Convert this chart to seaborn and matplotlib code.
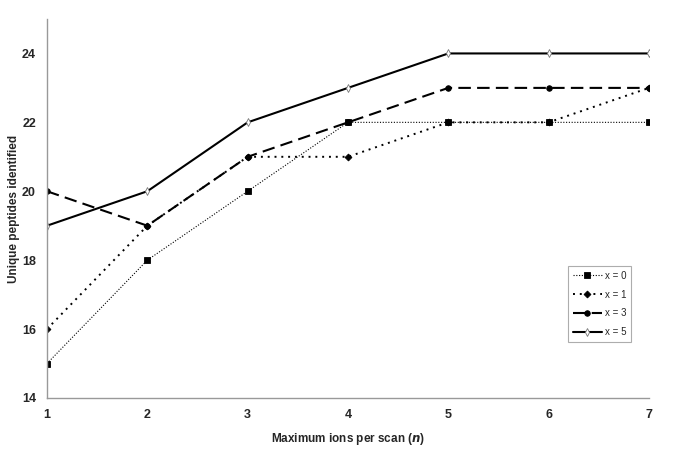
import numpy as np
import pandas as pd
import matplotlib
matplotlib.use("Agg")
import matplotlib.pyplot as plt
import seaborn as sns

# data
max_ions = [1, 2, 3, 4, 5, 6, 7]
x0_vals = [15, 18, 20, 22, 22, 22, 22]
x1_vals = [16, 19, 21, 21, 22, 22, 23]
x3_vals = [20, 19, 21, 22, 23, 23, 23]
x5_vals = [19, 20, 22, 23, 24, 24, 24]
labels = ["x = 0", "x = 1", "x = 3", "x = 5"]

sns.set_style("white")
plt.rcParams['font.family'] = ['Liberation Sans', 'DejaVu Sans']

fig = plt.figure(figsize=(6.85, 4.5), dpi=100)
ax = fig.add_axes([0.0686, 0.1156, 0.8788, 0.8422])

styles = [
    dict(marker='s', ms=4.5, lw=0.8, dashes=(1, 1.5), mfc='black', mec='black'),
    dict(marker='D', ms=3.5, lw=1.4, dashes=(1, 2.5), mfc='black', mec='black'),
    dict(marker='o', ms=4, lw=1.5, dashes=(6, 3), mfc='black', mec='black'),
    dict(marker='d', ms=4, lw=1.5, dashes=None, mfc='white', mec='#777777'),
]
series = [x0_vals, x1_vals, x3_vals, x5_vals]

for vals, lab, st in zip(series, labels, styles):
    df = pd.DataFrame({"n": max_ions, "peptides": vals})
    sns.lineplot(data=df, x="n", y="peptides", ax=ax, color='black',
                 marker=st['marker'], markersize=st['ms'], linewidth=st['lw'],
                 markerfacecolor=st['mfc'], markeredgecolor=st['mec'],
                 markeredgewidth=0.6, label=lab)
    if st['dashes'] is not None:
        ax.lines[-1].set_dashes(st['dashes'])

ax.set_xlim(1, 7)
ax.set_ylim(14, 25)
ax.set_xticks(max_ions)
ax.set_yticks([14, 16, 18, 20, 22, 24])
for s in ['top', 'right']:
    ax.spines[s].set_visible(False)
for s in ['left', 'bottom']:
    ax.spines[s].set_color('#999999')
    ax.spines[s].set_linewidth(1.0)
ax.tick_params(axis='both', which='both', direction='out', length=4,
               color='#999999', labelsize=9, pad=4)
for t in ax.get_xticklabels() + ax.get_yticklabels():
    t.set_fontweight('bold')

ax.set_xlabel("Maximum ions per scan ($\\bfit{n}$)", fontsize=8.5, fontweight='bold', labelpad=7)
ax.set_ylabel("Unique peptides identified", fontsize=8.5, fontweight='bold', labelpad=1)

leg = ax.legend(loc='lower left', bbox_to_anchor=(0.857, 0.135), fontsize=7,
                frameon=True, fancybox=False, handlelength=3.0, handletextpad=0.3,
                labelspacing=0.9, borderpad=0.5)
leg.get_frame().set_edgecolor('#999999')
leg.get_frame().set_linewidth(0.8)

fig.savefig("out.png", dpi=100)
